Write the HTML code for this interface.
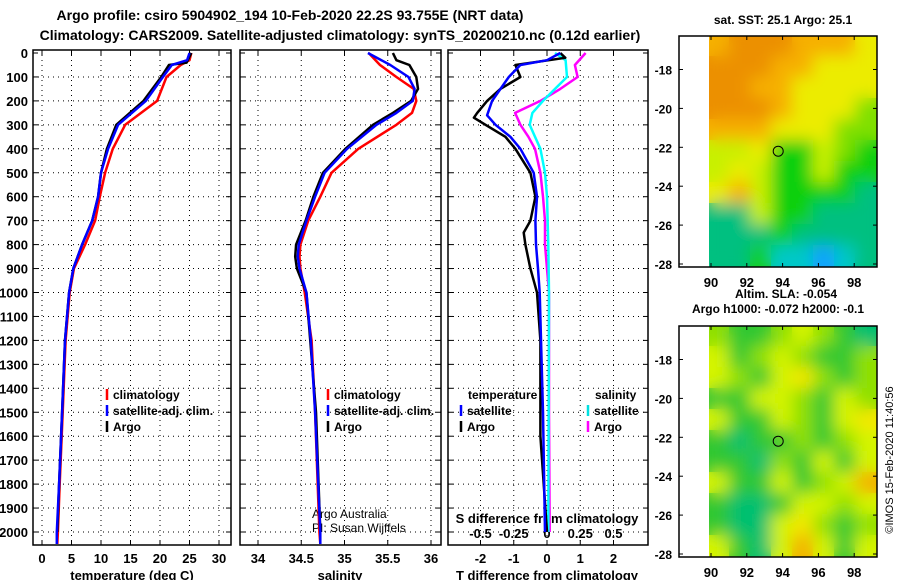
<!DOCTYPE html>
<html><head><meta charset="utf-8"><style>
html,body{margin:0;padding:0;background:#fff;}
svg{display:block;font-family:"Liberation Sans",sans-serif;font-weight:bold;}
</style></head><body>
<svg id="chart" width="900" height="580" viewBox="0 0 900 580" xmlns="http://www.w3.org/2000/svg">
<text x="290" y="20" font-size="14" text-anchor="middle">Argo profile: csiro 5904902_194 10-Feb-2020 22.2S 93.755E (NRT data)</text>
<text x="340" y="40" font-size="14" text-anchor="middle">Climatology: CARS2009. Satellite-adjusted climatology: synTS_20200210.nc (0.12d earlier)</text>
<text transform="translate(893,460) rotate(-90)" font-size="11" font-weight="normal" text-anchor="middle">©IMOS 15-Feb-2020 11:40:56</text>
<g id="g"></g>
</svg>
<script>
// ---- data ----
const tDepth   = [0,30,50,100,200,300,400,500,600,700,800,900,1000,1200,1500,1800,2000,2050];
const tClim    = [25.3,25,23.5,21.1,19.5,14.1,12.0,10.7,9.8,9,7.3,5.4,4.7,4,3.5,3,2.7,2.6];
const tSat     = [25,24.6,22,20.5,17.6,12.9,11.2,10,9.5,8.5,6.8,5.3,4.6,3.9,3.4,2.9,2.5,2.5];
const tArgoD   = [0,40,50,100,200,280,300,350,400,500,600,700,800,900,1000,1200,1500,1800,2000];
const tArgo    = [25.3,24.5,21.5,20.2,17.2,13.5,12.6,11.8,11,10,9.5,8.5,6.8,5.3,4.6,3.9,3.4,2.9,2.6];
const sDepth   = [0,50,100,150,200,250,300,400,500,600,700,800,850,900,1000,1200,1500,2000,2050];
const sClim    = [35.28,35.41,35.6,35.8,35.83,35.78,35.6,35.16,34.85,34.72,34.58,34.49,34.48,34.49,34.54,34.62,34.66,34.71,34.72];
const sSat     = [35.27,35.53,35.74,35.81,35.79,35.6,35.37,35.03,34.77,34.66,34.56,34.47,34.46,34.48,34.56,34.61,34.66,34.72,34.72];
const sArgoD   = [0,30,50,100,150,200,250,300,400,500,600,700,800,850,900,1000,1500,2000];
const sArgo    = [35.56,35.6,35.75,35.83,35.85,35.77,35.56,35.33,35.01,34.75,34.64,34.55,34.44,34.43,34.45,34.56,34.67,34.72];
const dtArgoD  = [0,20,50,100,150,200,250,270,300,350,400,500,600,700,750,800,900,1000,1200,1600,1800,2000];
const dtArgo   = [0.4,0.55,-0.95,-0.8,-1.4,-1.8,-2.1,-2.2,-1.85,-1.25,-0.95,-0.5,-0.35,-0.5,-0.7,-0.65,-0.5,-0.3,-0.2,-0.2,-0.1,0];
const dtSatD   = [0,30,50,100,200,260,300,350,400,500,600,700,800,900,1000,1500,2000];
const dtSat    = [0.4,0,-0.8,-1.15,-1.65,-1.8,-1.55,-1.1,-0.8,-0.4,-0.3,-0.35,-0.33,-0.27,-0.22,-0.12,-0.06];
const dsArgoD  = [0,50,100,150,200,250,300,350,400,500,600,700,800,900,1000,1500,2000];
const dsArgo   = [0.29,0.21,0.23,0.1,-0.05,-0.24,-0.2,-0.14,-0.09,-0.05,-0.03,-0.015,-0.015,0,0.015,0.015,0.02];
const dsSatD   = [0,30,100,150,200,250,300,350,400,500,600,800,1000,2000];
const dsSat    = [0.06,0.14,0.15,0.06,-0.03,-0.11,-0.13,-0.09,-0.05,-0.015,0,0.01,0.015,0.01];
const depthTicks = [0,100,200,300,400,500,600,700,800,900,1000,1100,1200,1300,1400,1500,1600,1700,1800,1900,2000];
const tTicks  = [0,5,10,15,20,25,30];
const sTicks  = [34,34.5,35,35.5,36];
const sTickLabels = ["34","34.5","35","35.5","36"];
const dTTicks = [-2,-1,0,1,2];
const dSTicks = [-0.5,-0.25,0,0.25,0.5];
const dSTickLabels = ["-0.5","-0.25","0","0.25","0.5"];
const lonTicks = [90,92,94,96,98];
const latTicks = [-18,-20,-22,-24,-26,-28];
const sstGrid = ["oOOOoooY","OOOooYYY","OOooYYYY","OOOoYYYg","oooYYYgg","yyYGGygG","yYyGGyGG","YoyGGGGT","TTyGGTTT","TTTGTTTT","TTGCCBCT"];
const slaGrid = ["gGGgygGT","yGgygGGg","ygGyYgGg","GGyygGyg","yGGygGyY","GTGGgGgy","GGTgGyGy","yGGyGgyO","GTTGyygy","GTTyYgGg","yGTyOyGy"];
const floatLon = 93.755, floatLat = -22.2;

// ---- helpers ----
const NS="http://www.w3.org/2000/svg", root=document.getElementById('g');
function mk(tag,at,parent){const e=document.createElementNS(NS,tag);for(const k in at)e.setAttribute(k,at[k]);(parent||root).appendChild(e);return e;}
const Y0=53, PY=23.95, yD=d=>Y0+d*PY/100, TOP=50, BOT=545;
const panels=[
 {name:'temperature',x0:33,x1:231,fx:v=>42+v*5.9},
 {name:'salinity',x0:240,x1:441,fx:v=>258+(v-34)*86.5},
 {name:'difference',x0:448,x1:648,fx:v=>547+v*33.25}];
const fS3=v=>547+v*4*33.25;

function line(xs,ds,fx,color,name,w){
  const pts=xs.map((v,i)=>fx(v).toFixed(1)+','+yD(ds[i]).toFixed(1)).join(' ');
  const p=mk('polyline',{points:pts,fill:'none',stroke:color,'stroke-width':w||2.5,'stroke-linejoin':'round'});
  
  
}
function txt(x,y,s,size,anchor,name,weight){
  const t=mk('text',{x:x,y:y,'font-size':size,'text-anchor':anchor||'start'});
  if(weight)t.setAttribute('font-weight',weight);
  t.textContent=s;
  
  
  return t;
}

// ---- panels frame & grid ----
panels.forEach((P,pi)=>{
  const xt = pi===0?tTicks:pi===1?sTicks:dTTicks;
  depthTicks.forEach(d=>{
    if(d>0){const gl=mk('line',{x1:P.x0,x2:P.x1,y1:yD(d),y2:yD(d),stroke:'#000','stroke-width':1,'stroke-dasharray':'1,4'});
    }
    mk('line',{x1:P.x0,x2:P.x0+5,y1:yD(d),y2:yD(d),stroke:'#000'});
    mk('line',{x1:P.x1-5,x2:P.x1,y1:yD(d),y2:yD(d),stroke:'#000'});
  });
  xt.forEach(v=>{
    const x=P.fx(v);
    const gl=mk('line',{x1:x,x2:x,y1:TOP,y2:BOT,stroke:'#000','stroke-width':1,'stroke-dasharray':'1,4'});
    
    mk('line',{x1:x,x2:x,y1:BOT-5,y2:BOT,stroke:'#000'});
    mk('line',{x1:x,x2:x,y1:TOP,y2:TOP+5,stroke:'#000'});
  });
  const r=mk('rect',{x:P.x0,y:TOP,width:P.x1-P.x0,height:BOT-TOP,fill:'none',stroke:'#000','stroke-width':1.5});
  
});
depthTicks.forEach(d=>txt(28,yD(d)+5,String(d),13,'end','depth-tick-label'));
tTicks.forEach(v=>txt(panels[0].fx(v),563,String(v),13,'middle','temperature-tick-label'));
sTicks.forEach((v,i)=>txt(panels[1].fx(v),563,sTickLabels[i],13,'middle','salinity-tick-label'));
dTTicks.forEach(v=>txt(panels[2].fx(v),563,String(v),13,'middle','t-diff-tick-label'));
dSTicks.forEach((v,i)=>txt(fS3(v),538,dSTickLabels[i],13,'middle','s-diff-tick-label'));
txt(547,523,'S difference from climatology',13,'middle','s-diff-axis-title');
txt(132,580,'temperature (deg C)',13,'middle','temperature-axis-title');
txt(340,580,'salinity',13,'middle','salinity-axis-title');
txt(547,580,'T difference from climatology',13,'middle','t-diff-axis-title');
txt(312,518,'Argo Australia',12,'start','credit-argo-australia','normal');
txt(312,532,'PI: Susan Wijffels',12,'start','credit-pi','normal');

// ---- series ----
const P0=panels[0].fx,P1=panels[1].fx,P2=panels[2].fx;
line(tClim,tDepth,P0,'#ff0000','temperature-climatology-line');
line(tArgo,tArgoD,P0,'#000000','temperature-argo-line');
line(tSat,tDepth,P0,'#0000ff','temperature-satellite-line');
line(sClim,sDepth,P1,'#ff0000','salinity-climatology-line');
line(sArgo,sArgoD,P1,'#000000','salinity-argo-line');
line(sSat,sDepth,P1,'#0000ff','salinity-satellite-line');
line(dsArgo,dsArgoD,fS3,'#ff00ff','s-diff-argo-line');
line(dsSat,dsSatD,fS3,'#00ffff','s-diff-satellite-line');
line(dtArgo,dtArgoD,P2,'#000000','t-diff-argo-line');
line(dtSat,dtSatD,P2,'#0000ff','t-diff-satellite-line');

// ---- legends ----
function leg(x,y,color,label,name){
  const l=mk('line',{x1:x,x2:x,y1:y-10,y2:y+1,stroke:color,'stroke-width':2.5});
  
  txt(x+6,y,label,12,'start',name+'-label');
}
leg(107,399,'#ff0000','climatology','legend-temp-climatology');
leg(107,415,'#0000ff','satellite-adj. clim.','legend-temp-satellite');
leg(107,431,'#000000','Argo','legend-temp-argo');
leg(328,399,'#ff0000','climatology','legend-sal-climatology');
leg(328,415,'#0000ff','satellite-adj. clim.','legend-sal-satellite');
leg(328,431,'#000000','Argo','legend-sal-argo');
txt(468,399,'temperature',12,'start','legend-diff-temperature-header');
txt(595,399,'salinity',12,'start','legend-diff-salinity-header');
leg(461,415,'#0000ff','satellite','legend-dt-satellite');
leg(461,431,'#000000','Argo','legend-dt-argo');
leg(588,415,'#00e0e0','satellite','legend-ds-satellite');
leg(588,431,'#ff00ff','Argo','legend-ds-argo');

// ---- maps ----
const sstCol={O:'#ec9000',o:'#f6b000',Y:'#ecec00',y:'#c8f000',g:'#80e000',G:'#10d010',T:'#00c080',C:'#00c8c8',B:'#10a0ff'};
const slaCol={g:'#90e000',G:'#30c830',y:'#d4f400',Y:'#f4e800',O:'#f4b000',T:'#00c070'};
function map(oy,grid,cols,name,fid){
  const bx0=679,bx1=877,by0=oy,by1=oy+231;
  const fx=lon=>711+(lon-90)*17.9, fy=lat=>oy+33.5+(-18-lat)*19.45;
  const defs=mk('defs',{});
  const cp=mk('clipPath',{id:'cp'+fid},defs);mk('rect',{x:709,y:by0,width:bx1-709,height:by1-by0},cp);
  const f=mk('filter',{id:'bl'+fid,x:'-20%',y:'-20%',width:'140%',height:'140%'},defs);mk('feGaussianBlur',{stdDeviation:8},f);
  const g=mk('g',{'clip-path':'url(#cp'+fid+')'});
  
  const base=mk('g',{},g);
  const gi=mk('g',{filter:'url(#bl'+fid+')'},g);
  const cw=(bx1-709)/8, ch=(by1-by0)/11;
  grid.forEach((row,r)=>row.split('').forEach((c,k)=>{
    mk('rect',{x:709+k*cw-1,y:by0+r*ch-1,width:cw+2,height:ch+2,fill:cols[c]},base);
    mk('rect',{x:709+k*cw-1,y:by0+r*ch-1,width:cw+2,height:ch+2,fill:cols[c]},gi);
  }));
  const fr=mk('rect',{x:bx0,y:by0,width:bx1-bx0,height:by1-by0,fill:'none',stroke:'#000','stroke-width':1.5});
  
  lonTicks.forEach(v=>{mk('line',{x1:fx(v),x2:fx(v),y1:by0,y2:by0+4,stroke:'#000'});mk('line',{x1:fx(v),x2:fx(v),y1:by1-4,y2:by1,stroke:'#000'});});
  latTicks.forEach(v=>{mk('line',{x1:bx0,x2:bx0+4,y1:fy(v),y2:fy(v),stroke:'#000'});mk('line',{x1:bx1-4,x2:bx1,y1:fy(v),y2:fy(v),stroke:'#000'});
    txt(672,fy(v)+5,String(v),12,'end',name+'-lat-label');});
  lonTicks.forEach(v=>txt(fx(v),by1+20,String(v),13,'middle',name+'-lon-label'));
  const c=mk('circle',{cx:fx(floatLon),cy:fy(floatLat),r:5,fill:'none',stroke:'#000','stroke-width':1});
  
}
map(36,sstGrid,sstCol,'sst-map','1');
map(326,slaGrid,slaCol,'sla-map','2');
txt(783,24,'sat. SST: 25.1 Argo: 25.1',12,'middle','sst-map-title');
txt(735,298,'Altim. SLA: -0.054',12,'start','sla-map-title');
txt(778,313,'Argo h1000: -0.072 h2000: -0.1',12,'middle','sla-map-subtitle');
</script>
</body></html>
